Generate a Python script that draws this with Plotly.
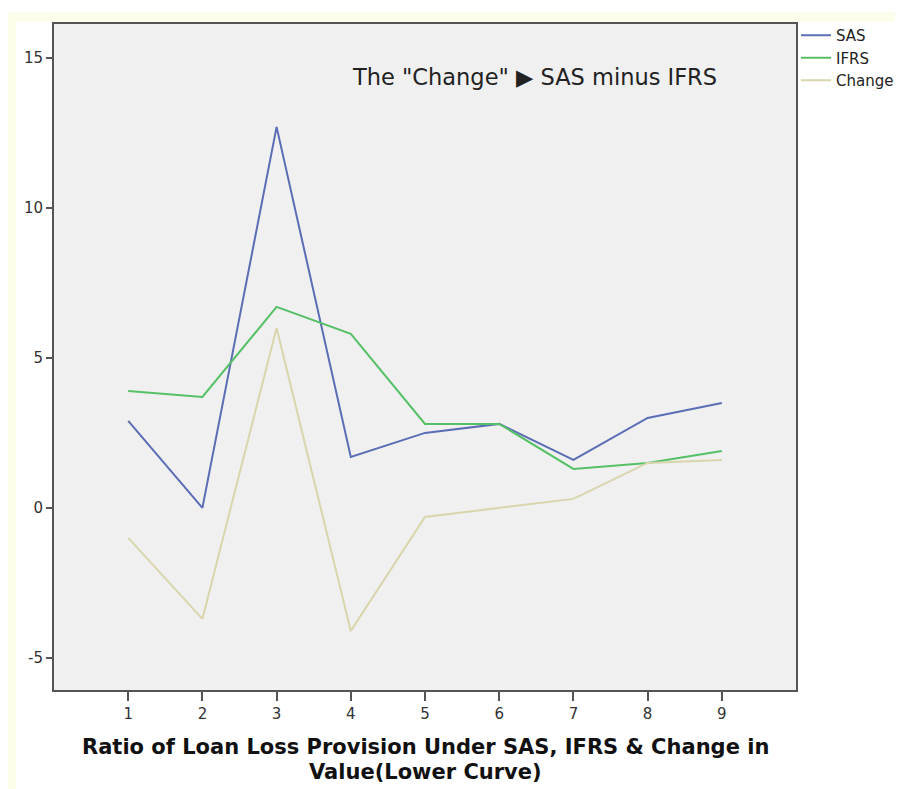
import plotly.graph_objects as go

x_vals = [1, 2, 3, 4, 5, 6, 7, 8, 9]
sas = [2.9, 0.0, 12.7, 1.7, 2.5, 2.8, 1.6, 3.0, 3.5]
ifrs = [3.9, 3.7, 6.7, 5.8, 2.8, 2.8, 1.3, 1.5, 1.9]
change = [-1.0, -3.7, 6.0, -4.1, -0.3, 0.0, 0.3, 1.5, 1.6]
y_ticks = [-5, 0, 5, 10, 15]
y_tick_text = ["-5", "0", "5", "10", "15"]
title_lines = ["Ratio of Loan Loss Provision Under SAS, IFRS & Change in",
               "Value(Lower Curve)"]

FONT = "DejaVu Sans, Liberation Sans, Arial, sans-serif"
PW, PH = 742, 666  # plot area size in px

fig = go.Figure()
fig.add_trace(go.Scatter(x=x_vals, y=sas, mode="lines", name="SAS",
                         line=dict(color="#5b6db5", width=2)))
fig.add_trace(go.Scatter(x=x_vals, y=ifrs, mode="lines", name="IFRS",
                         line=dict(color="#55c065", width=2)))
fig.add_trace(go.Scatter(x=x_vals, y=change, mode="lines", name="Change",
                         line=dict(color="#d9d5ad", width=2)))

fig.add_annotation(x=6.48, y=14.37, xref="x", yref="y",
                   text='The "Change" \u25B6 SAS minus IFRS', showarrow=False,
                   font=dict(family=FONT, size=22.5, color="#222222"))

# x-axis title as two tightly spaced lines
for i, line in enumerate(title_lines):
    fig.add_annotation(x=0.5, y=-(57 + 25 * i) / PH, xref="paper", yref="paper",
                       text="<b>" + line + "</b>", showarrow=False,
                       xanchor="center", yanchor="middle",
                       font=dict(family=FONT, size=21, color="#111111"))

# pale frame strips of the original image
fig.add_shape(type="rect", xref="paper", yref="paper", layer="below",
              x0=-46 / PW, x1=849 / PW, y0=1 + 2 / PH, y1=1 + 12 / PH,
              fillcolor="#fdfdec", line=dict(width=0))
fig.add_shape(type="rect", xref="paper", yref="paper", layer="below",
              x0=-46 / PW, x1=-38 / PW, y0=-99 / PH, y1=1 + 12 / PH,
              fillcolor="#fdfdec", line=dict(width=0))

fig.update_layout(
    width=895, height=781,
    margin=dict(l=46, r=107, t=16, b=99, autoexpand=False),
    paper_bgcolor="white",
    plot_bgcolor="#f0f0f0",
    font=dict(family=FONT, size=15, color="#333333"),
    showlegend=True,
    legend=dict(x=1.0, y=1 + 5 / PH, xanchor="left", yanchor="top",
                font=dict(family=FONT, size=15, color="#222222"),
                bgcolor="rgba(0,0,0,0)", itemwidth=30, tracegroupgap=0),
    xaxis=dict(range=[0, 10], tickmode="array", tickvals=x_vals,
               ticktext=[str(v) for v in x_vals],
               showgrid=False, zeroline=False,
               showline=True, mirror=True, linecolor="#555555", linewidth=2,
               ticks="outside", ticklen=9, tickwidth=2, tickcolor="#555555",
               tickfont=dict(size=15, color="#333333")),
    yaxis=dict(range=[-6.07, 16.13], tickmode="array", tickvals=y_ticks,
               ticktext=y_tick_text,
               showgrid=False, zeroline=False,
               showline=True, mirror=True, linecolor="#555555", linewidth=2,
               ticks="outside", ticklen=6, tickwidth=2, tickcolor="#555555",
               tickfont=dict(size=15, color="#333333")),
)

fig.write_html("out.html")
